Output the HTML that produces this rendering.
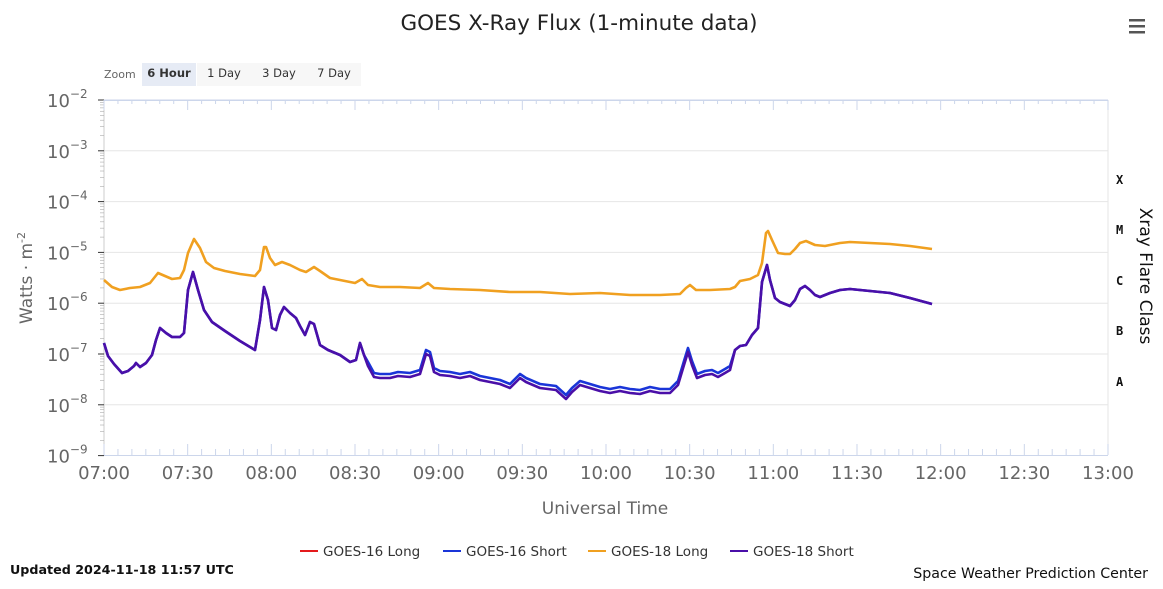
<!DOCTYPE html>
<html><head><meta charset="utf-8"><style>
body{margin:0;background:#fff;width:1163px;height:584px;overflow:hidden;font-family:"Liberation Sans","DejaVu Sans",sans-serif}
</style></head><body>
<svg id="s" width="1163" height="584" xmlns="http://www.w3.org/2000/svg" font-family="'DejaVu Sans','Liberation Sans',sans-serif">
<text x="579" y="30" text-anchor="middle" font-size="21.5" fill="#222">GOES X-Ray Flux (1-minute data)</text>
<g fill="#555"><rect x="1129" y="19" width="16" height="2.5"/><rect x="1129" y="25" width="16" height="2.5"/><rect x="1129" y="31" width="16" height="2.5"/></g>
<text x="104" y="78" font-size="11" fill="#666">Zoom</text>
<rect x="142" y="63" width="54" height="23" fill="#e6ebf5"/>
<rect x="197" y="63" width="164" height="23" fill="#f7f7f7"/>
<text x="169" y="77" font-size="11.5" font-weight="bold" text-anchor="middle" fill="#333">6 Hour</text>
<text x="224" y="77" font-size="11.5" text-anchor="middle" fill="#333">1 Day</text>
<text x="279" y="77" font-size="11.5" text-anchor="middle" fill="#333">3 Day</text>
<text x="334" y="77" font-size="11.5" text-anchor="middle" fill="#333">7 Day</text>
<g id="grid"></g>
<rect x="104" y="99.5" width="1004" height="1.5" fill="#ccd6eb"/>
<line x1="1108" y1="100" x2="1108" y2="455" stroke="#e6e6e6"/>
<line x1="104" y1="100" x2="104" y2="455" stroke="#ccc"/>
<line x1="104" y1="455.5" x2="1108" y2="455.5" stroke="#ccd6eb"/>
<g id="ticks" stroke="#ccd6eb"></g>
<g id="lbl" font-size="18" fill="#666"></g>
<text transform="translate(32,278) rotate(-90)" text-anchor="middle" font-size="17" fill="#666">Watts · m<tspan font-size="11" dy="-7">-2</tspan></text>
<text x="605" y="514" text-anchor="middle" font-size="17" fill="#666">Universal Time</text>
<g font-family="'DejaVu Sans Mono','Liberation Mono',monospace" font-size="12" font-weight="bold" fill="#111">
<text x="1116" y="184">X</text><text x="1116" y="234">M</text><text x="1116" y="285">C</text><text x="1116" y="335">B</text><text x="1116" y="386">A</text></g>
<text transform="translate(1140,276) rotate(90)" text-anchor="middle" font-size="17" fill="#111">Xray Flare Class</text>
<g fill="none" stroke-width="2.6" stroke-linejoin="round">
<path id="blue" stroke="#1a35d8"/><path id="purple" stroke="#4a0fa8"/><path id="orange" stroke="#f0a020"/>
</g>
<g font-size="13.5" fill="#333">
<line x1="300" y1="551" x2="318" y2="551" stroke="#e41a1c" stroke-width="2"/><text x="323" y="556">GOES-16 Long</text>
<line x1="443" y1="551" x2="461" y2="551" stroke="#1a35d8" stroke-width="2"/><text x="466" y="556">GOES-16 Short</text>
<line x1="588" y1="551" x2="606" y2="551" stroke="#f0a020" stroke-width="2"/><text x="611" y="556">GOES-18 Long</text>
<line x1="730" y1="551" x2="748" y2="551" stroke="#4a0fa8" stroke-width="2"/><text x="753" y="556">GOES-18 Short</text>
</g>
<text x="10" y="574" font-size="12.7" font-weight="bold" fill="#111">Updated 2024-11-18 11:57 UTC</text>
<text x="1148" y="578" font-size="14.2" text-anchor="end" fill="#111">Space Weather Prediction Center</text>
</svg>
<script>
var N='http://www.w3.org/2000/svg';
function el(p,t,a,txt){var e=document.createElementNS(N,t);for(var k in a)e.setAttribute(k,a[k]);if(txt!==undefined)e.textContent=txt;document.getElementById(p).appendChild(e);return e;}
var dec=50.8;
for(var i=0;i<=7;i++){var y=100+i*dec;
 if(i>0&&i<7)el('grid','line',{x1:104,x2:1108,y1:y,y2:y,stroke:'#e6e6e6'});
 el('ticks','line',{x1:98,x2:104,y1:y,y2:y,stroke:'#333'});
 if(i<7)for(var m=2;m<10;m++){var yy=y+dec*(1-Math.log10(m));el('ticks','line',{x1:100,x2:104,y1:yy,y2:yy,stroke:'#aaa','stroke-width':0.6});}
 var t=el('lbl','text',{x:47,y:y+7});t.textContent='10';var ts=document.createElementNS(N,'tspan');ts.setAttribute('font-size','12');ts.setAttribute('dy','-9');ts.textContent='−'+(2+i);t.appendChild(ts);
}
var ph=167.33;
for(var k=0;k<=72;k++){var x=104+k*ph/12;var maj=k%6==0;
 el('ticks','line',{x1:x,x2:x,y1:maj?444:449,y2:455});
 el('ticks','line',{x1:x,x2:x,y1:100,y2:maj?110:104});
 if(maj){var h=7+Math.floor(k/12),mm=(k%12)?'30':'00';el('lbl','text',{x:x,y:479,'text-anchor':'middle'},(h<10?'0':'')+h+':'+mm);}
}
var O=[104,280,112,287,120,290,130,288,140,287,150,283,158,273,165,276,172,279,180,278,184,270,188,253,194,239,200,248,206,262,214,268,225,271,240,274,255,276,260,270,264,247,266,247,270,258,275,265,282,262,290,265,300,270,306,272,314,267,320,271,330,278,345,281,355,283,362,279,368,285,380,287,400,287,420,288,428,283,434,288,450,289,480,290,510,292,540,292,570,294,600,293,630,295,660,295,680,294,686,288,690,285,696,290,710,290,730,289,735,287,740,281,750,279,758,275,762,263,766,233,768,231,772,240,778,253,785,254,790,254,795,249,800,243,806,241,815,245,825,246,840,243,850,242,870,243,890,244,910,246,932,249];
var P=[104,343,108,356,114,364,122,373,128,371,134,366,136,363,140,367,146,363,152,355,156,340,160,328,166,333,172,337,180,337,184,333,188,290,193,272,198,290,204,310,212,322,225,331,240,341,255,350,260,320,264,287,268,300,272,328,276,330,280,315,284,307,290,313,296,318,300,326,305,335,310,322,314,324,320,345,328,350,340,355,350,362,356,360,360,343,364,355,368,366,374,377,380,378,390,378,398,376,410,377,420,374,426,354,430,356,434,372,440,375,450,376,460,378,470,376,480,380,490,382,500,384,510,388,520,378,526,382,540,388,556,390,566,399,572,392,580,385,590,388,600,391,610,393,620,391,630,393,640,394,650,391,660,393,670,393,678,385,684,365,688,352,692,365,697,378,705,375,712,374,718,377,725,373,730,370,735,350,740,346,746,345,752,335,758,328,762,282,767,265,770,280,775,298,780,302,790,306,795,300,800,289,805,286,810,290,815,295,820,297,830,293,840,290,850,289,870,291,890,293,910,298,932,304];
function d(a,f){var s='';for(var i=0;i<a.length;i+=2){var y=a[i+1];if(f)y=f(a[i],y);s+=(i?'L':'M')+a[i]+' '+y;}return s;}
document.getElementById('orange').setAttribute('d',d(O));
document.getElementById('purple').setAttribute('d',d(P));
document.getElementById('blue').setAttribute('d',d(P,function(x,y){return (x>366&&x<732)?y-4:y;}));
</script>
</body></html>
